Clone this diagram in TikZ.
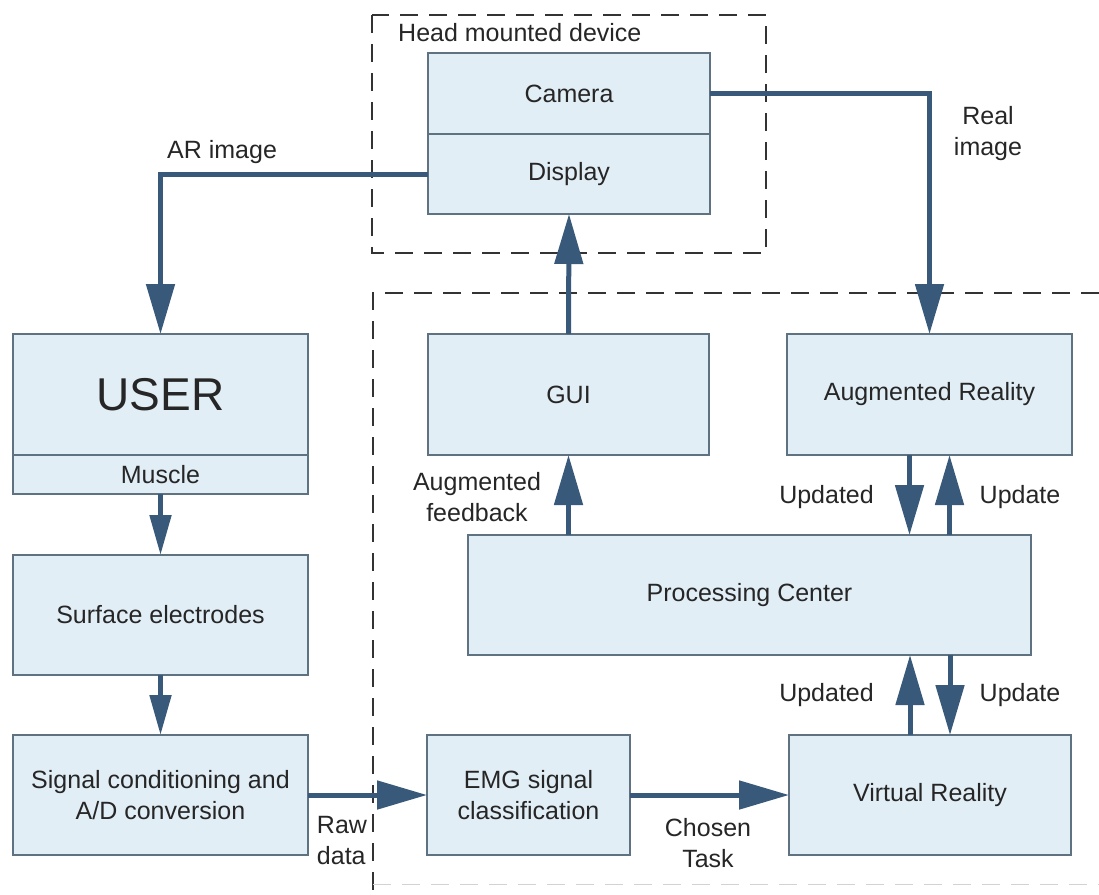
\documentclass[tikz,border=0pt]{standalone}
\usepackage{fontspec}
\setmainfont{Liberation Sans}
\usetikzlibrary{arrows.meta}

\definecolor{boxfill}{HTML}{E2EEF6}
\definecolor{boxline}{HTML}{5E7282}
\definecolor{flow}{HTML}{38597A}
\definecolor{txt}{HTML}{262626}
\definecolor{dashc}{HTML}{333333}

\newcommand{\diagfont}{\fontsize{25}{31}\selectfont}
\newcommand{\bigfont}{\fontsize{46}{50}\selectfont}

\begin{document}
\begin{tikzpicture}[x=1pt,y=-1pt,
    blk/.style={draw=boxline,fill=boxfill,line width=2pt,inner sep=0pt,
      outer sep=0pt,align=center,text=txt,font=\diagfont},
    frame/.style={draw=dashc,line width=2pt,dash pattern=on 18pt off 11pt},
    bighead/.style={-{Triangle[length=50pt,width=28pt]}},
    smallhead/.style={-{Triangle[length=40pt,width=21pt]}}]

      \useasboundingbox (0,0) rectangle (1099,894);

      % dashed groups
      \draw[frame] (372,15) rectangle (766,253);
      \draw[frame] (1099,293) -| (373,894);
      \draw[frame,draw=gray!35,line width=1pt] (373,884) -- (1099,884);

      \begin{scope}[every node/.style={blk}]
        \node[minimum width=282pt,minimum height=81pt] (camera)  at (569,93.5)  {Camera};
        \node[minimum width=282pt,minimum height=80pt] (display) at (569,174)   {Display};
        \node[minimum width=295pt,minimum height=121pt,font=\bigfont] (user) at (160.5,394.5) {USER};
        \node[minimum width=295pt,minimum height=39pt] (muscle)  at (160.5,474.5) {Muscle};
        \node[minimum width=295pt,minimum height=120pt] (surface) at (160.5,615) {Surface electrodes};
        \node[minimum width=295pt,minimum height=120pt] (signal)  at (160.5,795) {Signal conditioning and\\A/D conversion};
        \node[minimum width=203pt,minimum height=120pt] (emg)     at (528.5,795) {EMG signal\\classification};
        \node[minimum width=282pt,minimum height=120pt] (vr)      at (930,795)   {Virtual Reality};
        \node[minimum width=563pt,minimum height=120pt] (pc)      at (749.5,595) {Processing Center};
        \node[minimum width=281pt,minimum height=121pt] (gui)     at (568.5,394.5) {GUI};
        \node[minimum width=285pt,minimum height=121pt] (ar)      at (929.5,394.5) {Augmented Reality};
      \end{scope}

      \coordinate (ardn) at ([xshift=-20pt]ar.south);
      \coordinate (arup) at ([xshift=20pt]ar.south);
      \coordinate (vrup) at ([xshift=-20pt]vr.north);
      \coordinate (vrdn) at ([xshift=20pt]vr.north);

      \begin{scope}[every path/.style={draw=flow,line width=5pt}]
        \draw[bighead] (display.west) -| (user.north);
        \draw[bighead] (camera.east) -| (ar.north);
      \end{scope}

      \begin{scope}[every edge/.style={draw=flow,line width=5pt,bighead}]
        \path (gui.north) edge (display.south);
        \path (pc.north -| gui.south) edge (gui.south);
        \path (ardn) edge (ardn |- pc.north);
        \path (arup |- pc.north) edge (arup);
        \path (vrup) edge (vrup |- pc.south);
        \path (vrdn |- pc.south) edge (vrdn);
        \path (signal.east) edge (emg.west);
        \path (emg.east) edge (vr.west);
        \path (muscle.south) edge[smallhead] (surface.north);
        \path (surface.south) edge[smallhead] (signal.north);
      \end{scope}

      \begin{scope}[every node/.style={text=txt,font=\diagfont,inner sep=0pt,align=center}]
        \node[anchor=base west] (hmd) at (398,41) {Head mounted device};
        \node[anchor=base west] (arimg) at (167,158) {AR image};
        \node (realimg) at (988,134) {Real\\image};
        \node (augfb) at (477,497) {Augmented\\feedback};
        \node[anchor=base] (upd1) at (826.5,503) {Updated};
        \node[anchor=base] (up1)  at (1020,503) {Update};
        \node[anchor=base] (upd2) at (826.5,701) {Updated};
        \node[anchor=base] (up2)  at (1020,701) {Update};
        \node[align=left] (raw) at (342,841) {Raw\\data};
        \node (task) at (708,843) {Chosen\\Task};
      \end{scope}

    \end{tikzpicture}
\end{document}
